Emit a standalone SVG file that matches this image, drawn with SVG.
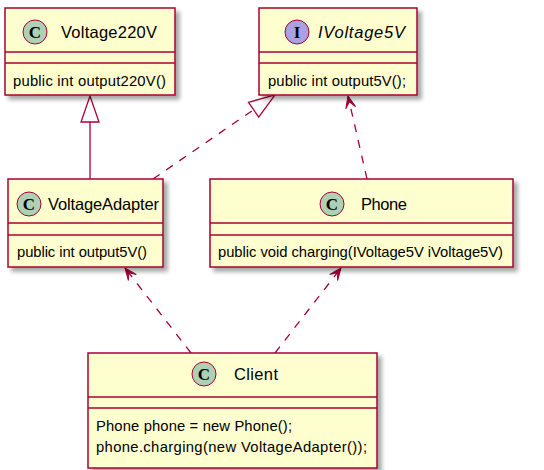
<svg xmlns="http://www.w3.org/2000/svg" width="544" height="470" viewBox="0 0 544 470">
<style>
.box{fill:#FEFECE;stroke:#A80036;stroke-width:1.5;filter:url(#sh)}
.sep{stroke:#A80036;stroke-width:1.5}
.cc{fill:#ADD1B2;stroke:#A80036;stroke-width:1}
.ci{fill:#A9A1E0;stroke:#A80036;stroke-width:1}
.lt{font-family:"Liberation Serif",serif;font-weight:bold;font-size:17px;fill:#000;text-anchor:middle}
.nm{font-family:"Liberation Sans",Arial,sans-serif;font-size:16.5px;fill:#000}
.mt{font-family:"Liberation Sans",Arial,sans-serif;font-size:14.8px;fill:#000}
.ln{stroke:#A80036;stroke-width:1.3;fill:none}
.dash{stroke-dasharray:8,8}
</style>
<defs>
<filter id="sh" x="-10%" y="-10%" width="130%" height="130%">
<feDropShadow dx="4" dy="4" stdDeviation="2" flood-color="#000" flood-opacity="0.35"/>
</filter>
<marker id="dep" markerUnits="userSpaceOnUse" markerWidth="20" markerHeight="20" refX="0" refY="0" orient="auto" overflow="visible">
<path d="M0,0 L-12,-5 L-6,0 L-12,5 Z" fill="#A80036" stroke="#A80036" stroke-width="1"/>
</marker>
<marker id="tri" markerUnits="userSpaceOnUse" markerWidth="30" markerHeight="30" refX="0" refY="0" orient="auto" overflow="visible">
<path d="M26,0 L0,-9 L0,9 Z" fill="none" stroke="#A80036" stroke-width="1.3"/>
</marker>
</defs>
<g id="connectors">
<line class="ln" x1="90" y1="179" x2="90" y2="122" marker-end="url(#tri)"/>
<line class="ln dash" x1="153" y1="179" x2="253.6" y2="109.7" marker-end="url(#tri)"/>
<line class="ln dash" x1="367" y1="179" x2="348" y2="96" marker-end="url(#dep)"/>
<line class="ln dash" x1="191" y1="353" x2="125" y2="268" marker-end="url(#dep)"/>
<line class="ln dash" x1="275" y1="353" x2="341" y2="268" marker-end="url(#dep)"/>
</g>
<g id="Voltage220V">
<rect class="box" x="5" y="8" width="170" height="87"/>
<line class="sep" x1="5" y1="52" x2="175" y2="52"/>
<line class="sep" x1="5" y1="63" x2="175" y2="63"/>
<circle class="cc" cx="35" cy="32" r="12"/>
<text class="lt" x="35" y="38">C</text>
<text class="nm" x="61" y="38" textLength="96">Voltage220V</text>
<text class="mt" x="13" y="86" textLength="153">public int output220V()</text>
</g>
<g id="IVoltage5V">
<rect class="box" x="259" y="8" width="158" height="87"/>
<line class="sep" x1="259" y1="52" x2="417" y2="52"/>
<line class="sep" x1="259" y1="63" x2="417" y2="63"/>
<circle class="ci" cx="297" cy="32" r="12"/>
<text class="lt" x="297" y="38">I</text>
<text class="nm" x="318" y="38" font-style="italic" textLength="87">IVoltage5V</text>
<text class="mt" x="268" y="86" textLength="138">public int output5V();</text>
</g>
<g id="VoltageAdapter">
<rect class="box" x="8" y="179" width="155" height="88"/>
<line class="sep" x1="8" y1="223" x2="163" y2="223"/>
<line class="sep" x1="8" y1="235" x2="163" y2="235"/>
<circle class="cc" cx="29" cy="204" r="12"/>
<text class="lt" x="29" y="210">C</text>
<text class="nm" x="48" y="210" textLength="111">VoltageAdapter</text>
<text class="mt" x="17" y="257" textLength="130">public int output5V()</text>
</g>
<g id="Phone">
<rect class="box" x="210" y="179" width="303" height="88"/>
<line class="sep" x1="210" y1="223" x2="513" y2="223"/>
<line class="sep" x1="210" y1="235" x2="513" y2="235"/>
<circle class="cc" cx="332" cy="204" r="12"/>
<text class="lt" x="332" y="210">C</text>
<text class="nm" x="361" y="210" textLength="46">Phone</text>
<text class="mt" x="218" y="257" textLength="285">public void charging(IVoltage5V iVoltage5V)</text>
</g>
<g id="Client">
<rect class="box" x="88" y="353" width="289" height="115"/>
<line class="sep" x1="88" y1="397" x2="377" y2="397"/>
<line class="sep" x1="88" y1="408" x2="377" y2="408"/>
<circle class="cc" cx="204" cy="374" r="12"/>
<text class="lt" x="204" y="380">C</text>
<text class="nm" x="234" y="380" textLength="44">Client</text>
<text class="mt" x="96" y="431" textLength="196">Phone phone = new Phone();</text>
<text class="mt" x="96" y="452" textLength="271">phone.charging(new VoltageAdapter());</text>
</g>
</svg>
